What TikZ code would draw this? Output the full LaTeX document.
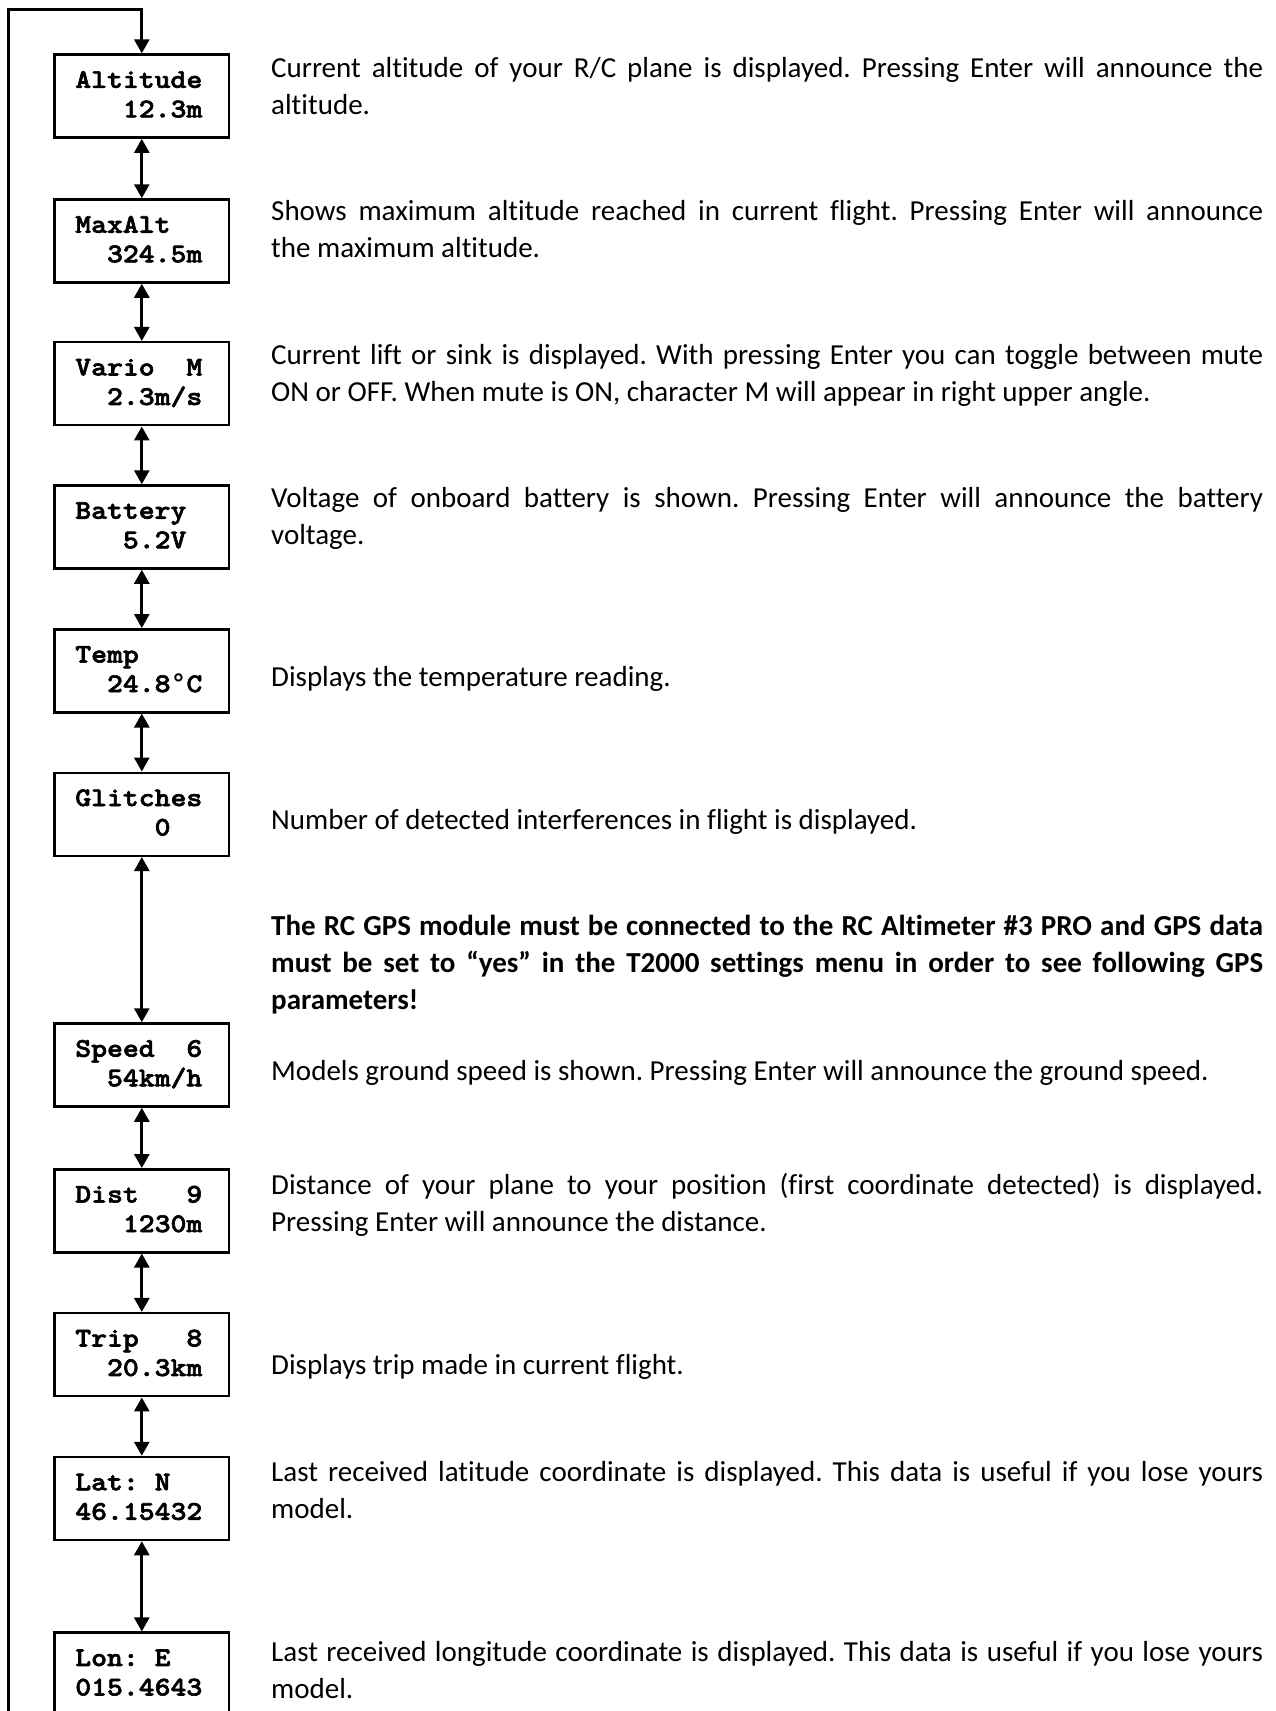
\documentclass[tikz,border=0pt]{standalone}
\usepackage{fontspec}
\setmainfont{Carlito}[Ligatures={NoCommon,NoContextual}]
\newfontfamily\lcdfont{lmmonolt10-bold.otf}[FakeStretch=1.12,FakeBold=2.2]
\newfontfamily\degfont{Liberation Mono}[FakeStretch=0.98]
\usetikzlibrary{arrows.meta}
\newcommand\descfont{\fontsize{29}{37}\selectfont\frenchspacing\tolerance=9999\hyphenpenalty=10000\relax}
\newcommand\gap[1]{\hphantom{#1}}
\newcommand\degsign{{\degfont\bfseries °}}
\tikzset{
  lcd/.style={draw, line width=2.5pt, rectangle, minimum width=174.5pt, minimum height=83pt,
    inner xsep=20.75pt, inner ysep=0pt, text width=133pt, align=left,
    text height=20pt, text depth=36.5pt,
    font=\lcdfont\fontsize{27}{29.5}\selectfont},
  desc/.style={anchor=base west, inner sep=0pt, text width=992pt, align=justify, font=\descfont},
  dbl/.style={line width=2.7pt, {Triangle[width=15pt,length=14pt]}-{Triangle[width=15pt,length=14pt]}},
  loopline/.style={line width=2.7pt, line join=miter, -{Triangle[width=15pt,length=14pt]}}
}
\begin{document}
\begin{tikzpicture}[x=1pt,y=-1pt]
\useasboundingbox (0,0) rectangle (1276,1711);
\clip (0,0) rectangle (1276,1711);
\fill[white] (0,0) rectangle (1276,1711);

% display boxes
\node[lcd] (alt)    at (141.8,96.1)   {Altitude\\\gap{000}12.3m};
\node[lcd] (maxalt) at (141.8,241)    {MaxAlt\\\gap{00}324.5m};
\node[lcd] (vario)  at (141.8,383.7)  {Vario\gap{00}M\\\gap{00}2.3m/s};
\node[lcd] (batt)   at (141.8,527)    {Battery\\\gap{000}5.2V};
\node[lcd] (temp)   at (141.8,670.8)  {Temp\\\gap{00}24.8\degsign C};
\node[lcd] (glitch) at (141.8,814.3)  {Glitches\\\gap{00000}0};
\node[lcd] (speed)  at (141.8,1065)   {Speed\gap{00}6\\\gap{00}54km/h};
\node[lcd] (dist)   at (141.8,1210.8) {Dist\gap{000}9\\\gap{000}1230m};
\node[lcd] (trip)   at (141.8,1354.7) {Trip\gap{000}8\\\gap{00}20.3km};
\node[lcd] (lat)    at (141.8,1498.5) {Lat:\gap{0}N\\46.15432};
\node[lcd] (lon)    at (141.8,1674.2) {Lon:\gap{0}E\\015.4643};

% connectors
\draw[dbl] (alt.south) -- (maxalt.north);
\draw[dbl] (maxalt.south) -- (vario.north);
\draw[dbl] (vario.south) -- (batt.north);
\draw[dbl] (batt.south) -- (temp.north);
\draw[dbl] (temp.south) -- (glitch.north);
\draw[dbl] (glitch.south) -- (speed.north);
\draw[dbl] (speed.south) -- (dist.north);
\draw[dbl] (dist.south) -- (trip.north);
\draw[dbl] (trip.south) -- (lat.north);
\draw[dbl] (lat.south) -- (lon.north);

\coordinate (loopbot) at (8.5,1730);
\coordinate (looptop) at (8.5,9.5);
\draw[loopline] (loopbot) -- (looptop) -| (alt.north);

% descriptions
\node[desc] (d1) at (271,77.5) {Current altitude of your R/C plane is displayed. Pressing Enter will announce the\linebreak altitude.};
\node[desc] (d2) at (271,220.5) {Shows maximum altitude reached in current flight. Pressing Enter will announce\linebreak the maximum altitude.};
\node[desc] (d3) at (271,364.5) {Current lift or sink is displayed. With pressing Enter you can toggle between mute\linebreak ON or OFF. When mute is ON, character M will appear in right upper angle.};
\node[desc] (d4) at (271,507.5) {Voltage of onboard battery is shown. Pressing Enter will announce the battery\linebreak voltage.};
\node[desc] (d5) at (271,686.5) {Displays the temperature reading.};
\node[desc] (d6) at (271,829.5) {Number of detected interferences in flight is displayed.};
\node[desc,font=\descfont\bfseries] (d7) at (271,935.5) {The RC GPS module must be connected to the RC Altimeter \#3 PRO and GPS data\linebreak must be set to “yes” in the T2000 settings menu in order to see following GPS\linebreak parameters!};
\node[desc] (d8) at (271,1080.5) {Models ground speed is shown. Pressing Enter will announce the ground speed.};
\node[desc] (d9) at (271,1194) {Distance of your plane to your position (first coordinate detected) is displayed.\linebreak Pressing Enter will announce the distance.};
\node[desc] (d10) at (271,1374) {Displays trip made in current flight.};
\node[desc] (d11) at (271,1481) {Last received latitude coordinate is displayed. This data is useful if you lose yours\linebreak model.};
\node[desc] (d12) at (271,1661) {Last received longitude coordinate is displayed. This data is useful if you lose yours\linebreak model.};
\end{tikzpicture}
\end{document}
